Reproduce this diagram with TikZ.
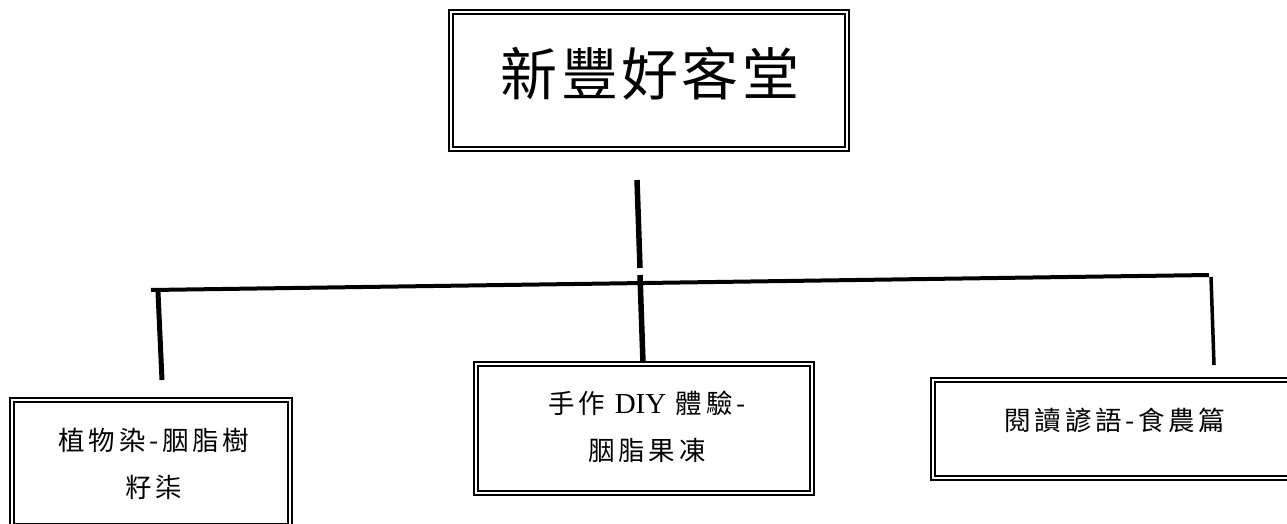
\documentclass[tikz,border=0pt]{standalone}
\usepackage{fontspec}
\newfontfamily\cjktitle[LetterSpace=6]{Noto Sans CJK TC}
\newfontfamily\cjklbl[LetterSpace=14]{Noto Sans CJK TC}
\newfontfamily\latinlbl{Liberation Serif}
\begin{document}
\begin{tikzpicture}[x=1pt,y=-1pt,
  box/.style={draw, rectangle, line width=2pt, double, double distance=2pt, inner sep=0pt},
  conn/.style={line width=5.5pt},
  bar/.style={line width=4pt},
  title/.style={font=\cjktitle\fontsize{57}{62}\selectfont, inner sep=0pt},
  lbl/.style={font=\cjklbl\fontsize{26.5}{47}\selectfont, align=center, inner sep=0pt}]
\useasboundingbox (0,0) rectangle (1287,524);
\clip (0,0) rectangle (1287,524);
% connectors
\coordinate (t1) at (637,180);
\coordinate (t2) at (640,268);
\coordinate (m1) at (640,275);
\coordinate (m2) at (643,363);
\coordinate (hl) at (151,290);
\coordinate (hr) at (1209,275);
\coordinate (l1) at (158,292);
\coordinate (l2) at (162,380);
\coordinate (r1) at (1211,277);
\coordinate (r2) at (1214,365);
\draw[conn] (t1) -- (t2);
\draw[conn] (m1) -- (m2);
\draw[bar] (hl) -- (hr);
\draw[conn,line width=5pt] (l1) -- (l2);
\draw[conn,line width=3.5pt] (r1) -- (r2);
% boxes
\node[box, minimum width=395.5pt, minimum height=136pt] (top) at (648.75,80.5) {};
\node[title] (toptxt) at (650,74) {新豐好客堂};
\node[box, minimum width=278pt, minimum height=126.5pt] (left) at (151,462.75) {};
\node[lbl] (lefttxt) at (154,464) {植物染-胭脂樹\\籽柒};
\node[box, minimum width=336pt, minimum height=129pt] (mid) at (644,428) {};
\node[lbl] (midtxt) at (647,426.5) {手作 {\latinlbl\fontsize{29}{47}\selectfont DIY} 體驗-\\胭脂果凍};
\node[box, minimum width=363pt, minimum height=97.5pt] (right) at (1114.5,428.75) {};
\node[lbl] (righttxt) at (1115,420) {閱讀諺語-食農篇};
\end{tikzpicture}
\end{document}
